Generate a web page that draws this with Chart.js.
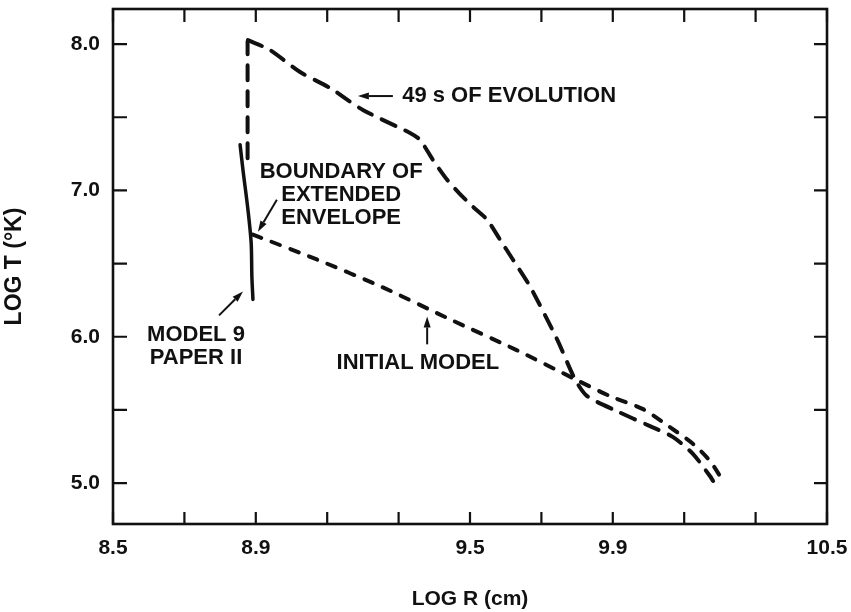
<!DOCTYPE html>
<html lang="en">
<head>
<meta charset="utf-8">
<title>LOG T vs LOG R</title>
<script src="https://cdn.jsdelivr.net/npm/chart.js"></script>
<style>
  html, body { margin: 0; padding: 0; background: #fff; }
  #wrap { width: 851px; height: 612px; }
</style>
</head>
<body>
<div id="wrap"><canvas id="myChart" width="851" height="612"></canvas></div>
<script>
// 49 s of evolution: vertical front, then the evolved profile (long dashes)
const frontR = [8.877, 8.877];
const frontT = [7.22, 8.02];
const evolvedR = [8.878, 8.940, 9.024, 9.108, 9.200, 9.332, 9.360, 9.396, 9.436, 9.470, 9.508, 9.548,
                  9.584, 9.620, 9.668, 9.744, 9.794, 9.828, 9.912, 10.004, 10.069, 10.125, 10.172, 10.181];
const evolvedT = [8.027, 7.959, 7.809, 7.700, 7.550, 7.393, 7.346, 7.209, 7.073, 6.980, 6.889, 6.800,
                  6.664, 6.528, 6.344, 5.982, 5.710, 5.594, 5.491, 5.389, 5.314, 5.198, 5.048, 5.014];

// initial model (short dashes)
const initialR = [8.892, 9.071, 9.256, 9.444, 9.632, 9.794, 9.892, 9.985, 10.060, 10.125, 10.172, 10.214];
const initialT = [6.698, 6.528, 6.337, 6.119, 5.907, 5.710, 5.594, 5.505, 5.382, 5.267, 5.151, 4.994];

// model 9 of paper II (solid)
const model9R = [8.856, 8.864, 8.878, 8.887, 8.889, 8.892];
const model9T = [7.312, 7.141, 6.868, 6.643, 6.412, 6.255];

// axis ticks: marks every step, numbers only on some
const xTickVals = [8.5, 8.7, 8.9, 9.1, 9.3, 9.5, 9.7, 9.9, 10.1, 10.3, 10.5];
const xTickLabels = [8.5, 8.9, 9.5, 9.9, 10.5];
const yTickVals = [5.0, 5.5, 6.0, 6.5, 7.0, 7.5, 8.0];
const yTickLabels = [5.0, 6.0, 7.0, 8.0];

const ink = '#111';
const face = '"Liberation Sans", Arial, sans-serif';

const toPoints = (rs, ts) => rs.map((r, i) => ({ x: r, y: ts[i] }));
const hasLabel = (list, v) => list.some(l => Math.abs(l - v) < 1e-6);

// text notes and pointer arrows, placed in data units
const notes = [
  { lines: ['49 s OF EVOLUTION'], r: 9.31, t: 7.645, align: 'left' },
  { lines: ['BOUNDARY OF', 'EXTENDED', 'ENVELOPE'], r: 9.139, t: 7.127, align: 'center' },
  { lines: ['MODEL 9', 'PAPER II'], r: 8.7325, t: 6.010, align: 'center' },
  { lines: ['INITIAL MODEL'], r: 9.354, t: 5.819, align: 'center' }
];
const pointers = [
  { from: [9.284, 7.645], to: [9.186, 7.645] },
  { from: [8.959, 6.937], to: [8.906, 6.718] },
  { from: [8.797, 6.146], to: [8.864, 6.309] },
  { from: [9.380, 5.948], to: [9.380, 6.139] }
];

function drawArrow(ctx, x0, y0, x1, y1) {
  const ang = Math.atan2(y1 - y0, x1 - x0);
  const len = 11, half = 3.5;
  const bx = x1 - Math.cos(ang) * len, by = y1 - Math.sin(ang) * len;
  ctx.beginPath();
  ctx.moveTo(x0, y0);
  ctx.lineTo(bx, by);
  ctx.stroke();
  ctx.beginPath();
  ctx.moveTo(x1, y1);
  ctx.lineTo(bx + Math.sin(ang) * half, by - Math.cos(ang) * half);
  ctx.lineTo(bx - Math.sin(ang) * half, by + Math.cos(ang) * half);
  ctx.closePath();
  ctx.fill();
}

// no extra room for the end labels, the box keeps its fixed size
function fixSize(s, key, size) {
  s[key] = size;
  s.paddingTop = s.paddingBottom = s.paddingLeft = s.paddingRight = 0;
}

const frameAndNotes = {
  id: 'frameAndNotes',
  afterDraw(chart) {
    const { ctx, chartArea: a, scales: { x, y } } = chart;
    ctx.save();
    ctx.strokeStyle = ink;
    ctx.fillStyle = ink;
    ctx.lineCap = 'butt';

    // box round the plot
    ctx.lineWidth = 2.6;
    ctx.strokeRect(a.left, a.top, a.right - a.left, a.bottom - a.top);

    // tick marks pointing inward on all four sides
    ctx.lineWidth = 2.2;
    ctx.beginPath();
    x.ticks.forEach(t => {
      const px = x.getPixelForValue(t.value);
      ctx.moveTo(px, a.bottom); ctx.lineTo(px, a.bottom - 12);
      ctx.moveTo(px, a.top); ctx.lineTo(px, a.top + 13);
    });
    y.ticks.forEach(t => {
      const py = y.getPixelForValue(t.value);
      ctx.moveTo(a.left, py); ctx.lineTo(a.left + 14, py);
      ctx.moveTo(a.right, py); ctx.lineTo(a.right - 13, py);
    });
    ctx.stroke();

    // labels
    ctx.font = 'bold 22px ' + face;
    ctx.textBaseline = 'middle';
    notes.forEach(n => {
      ctx.textAlign = n.align;
      const px = x.getPixelForValue(n.r);
      const py = y.getPixelForValue(n.t);
      n.lines.forEach((s, i) => ctx.fillText(s, px, py + i * 23));
    });

    // arrows
    ctx.lineWidth = 2;
    pointers.forEach(p => {
      drawArrow(ctx,
        x.getPixelForValue(p.from[0]), y.getPixelForValue(p.from[1]),
        x.getPixelForValue(p.to[0]), y.getPixelForValue(p.to[1]));
    });
    ctx.restore();
  }
};

const longDash = [15, 11];
const shortDash = [9, 11];

const ctx = document.getElementById('myChart').getContext('2d');
new Chart(ctx, {
  type: 'scatter',
  data: {
    datasets: [
      {
        label: 'front',
        data: toPoints(frontR, frontT),
        showLine: true, borderColor: ink, borderWidth: 4,
        borderDash: longDash, borderCapStyle: 'round',
        pointRadius: 0, tension: 0
      },
      {
        label: '49 s OF EVOLUTION',
        data: toPoints(evolvedR, evolvedT),
        showLine: true, borderColor: ink, borderWidth: 4,
        borderDash: longDash, borderCapStyle: 'round',
        pointRadius: 0, tension: 0.25
      },
      {
        label: 'INITIAL MODEL',
        data: toPoints(initialR, initialT),
        showLine: true, borderColor: ink, borderWidth: 4,
        borderDash: shortDash, borderCapStyle: 'round',
        pointRadius: 0, tension: 0.25
      },
      {
        label: 'MODEL 9 PAPER II',
        data: toPoints(model9R, model9T),
        showLine: true, borderColor: ink, borderWidth: 3.5,
        borderCapStyle: 'round',
        pointRadius: 0, tension: 0.3
      }
    ]
  },
  options: {
    responsive: false,
    animation: false,
    devicePixelRatio: 1,
    layout: { padding: { top: 9, right: 24, left: 0, bottom: 0 } },
    plugins: {
      legend: { display: false },
      tooltip: { enabled: false }
    },
    scales: {
      x: {
        type: 'linear',
        min: 8.5,
        max: 10.5,
        afterBuildTicks: s => { s.ticks = xTickVals.map(v => ({ value: v })); },
        afterFit: s => fixSize(s, 'height', 88),
        grid: { display: false, drawTicks: false },
        border: { display: false },
        ticks: {
          color: ink,
          font: { family: face, size: 21, weight: 'bold' },
          padding: 12,
          maxRotation: 0,
          autoSkip: false,
          callback: v => hasLabel(xTickLabels, v) ? v.toFixed(1) : ''
        },
        title: {
          display: true,
          text: 'LOG R (cm)',
          color: ink,
          font: { family: face, size: 21, weight: 'bold' },
          padding: { top: 0, bottom: 0 }
        }
      },
      y: {
        type: 'linear',
        min: 4.72,
        max: 8.24,
        afterBuildTicks: s => { s.ticks = yTickVals.map(v => ({ value: v })); },
        afterFit: s => fixSize(s, 'width', 113),
        grid: { display: false, drawTicks: false },
        border: { display: false },
        ticks: {
          color: ink,
          font: { family: face, size: 21, weight: 'bold' },
          padding: 13,
          autoSkip: false,
          callback: v => hasLabel(yTickLabels, v) ? v.toFixed(1) : ''
        },
        title: {
          display: true,
          text: 'LOG T (°K)',
          color: ink,
          font: { family: face, size: 23, weight: 'bold' },
          padding: { top: 1, bottom: 0 }
        }
      }
    }
  },
  plugins: [frameAndNotes]
});
</script>
</body>
</html>
